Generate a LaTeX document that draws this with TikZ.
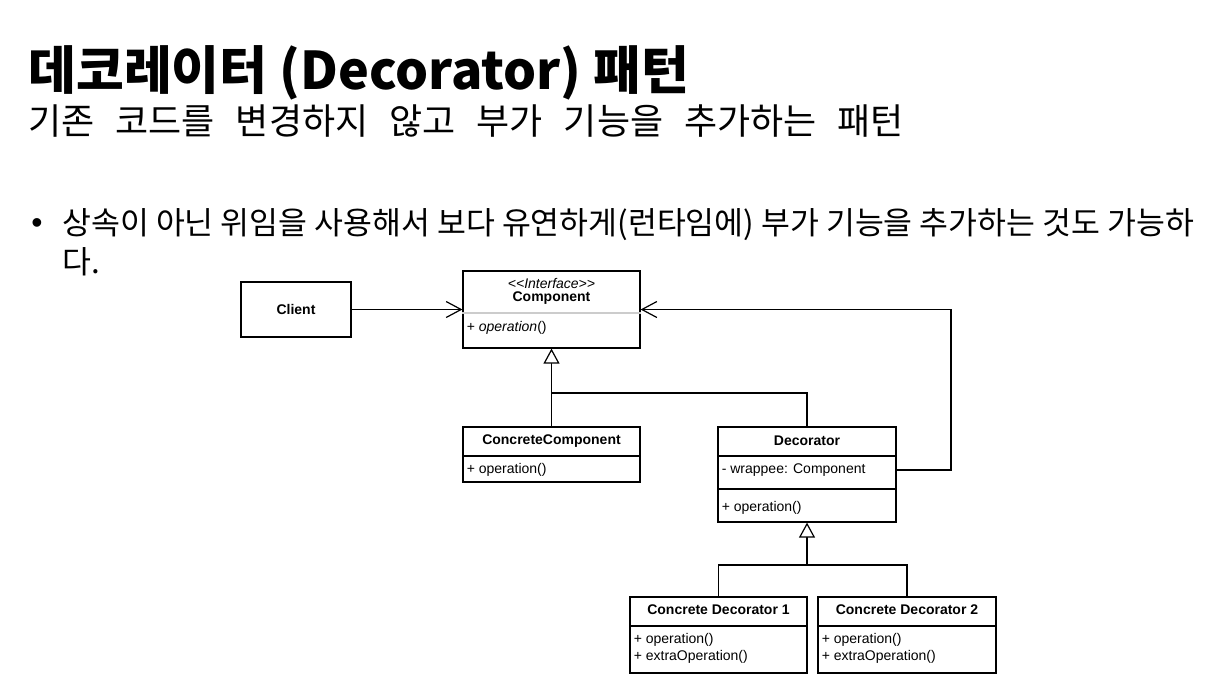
\documentclass[tikz,border=0pt]{standalone}
\usepackage{fontspec}
\setmainfont{Liberation Sans}
\newfontfamily\krfont{Noto Sans CJK KR}
\usetikzlibrary{arrows.meta,positioning,calc}

\tikzset{
  cls/.style={draw, line width=0.6pt, inner sep=0pt, fill=white},
  head/.style={inner sep=0pt, font=\fontsize{7}{8.4}\selectfont\bfseries},
  row/.style={anchor=west, inner sep=0pt, xshift=2pt},
  sep/.style={line width=0.6pt},
  assoc/.style={line width=0.6pt, -{Straight Barb[length=7.5pt,width=8pt,line width=0.6pt]}},
  inherit/.style={line width=0.6pt, -{Triangle[open,length=7.5pt,width=8pt,line width=0.6pt,fill=white]}},
  krtext/.style={anchor=base west, inner sep=0pt}
}

\begin{document}
\begin{tikzpicture}[x=0.5pt, y=-0.5pt, font=\fontsize{7}{8.4}\selectfont]
    \useasboundingbox[fill=white] (0,0) rectangle (1230,697);

    % title and text
    \node[krtext, font=\krfont\bfseries\fontsize{26}{31}\selectfont] (title) at (28,89) {데코레이터 (Decorator) 패턴};
    \node[krtext, font=\krfont\fontsize{18}{22}\selectfont] (subtitle) at (28,134)
        {기존\hspace{10.5pt}코드를\hspace{10.5pt}변경하지\hspace{10.5pt}않고\hspace{10.5pt}부가\hspace{10.5pt}기능을\hspace{10.5pt}추가하는\hspace{10.5pt}패턴};
    \node[krtext, font=\fontsize{16}{19}\selectfont] (bullet) at (31,233) {•};
    \node[krtext, font=\krfont\fontsize{15.7}{19}\selectfont] (line1) at (62,234)
        {상속이 아닌 위임을 사용해서 보다 유연하게(런타임에) 부가 기능을 추가하는 것도 가능하};
    \node[krtext, font=\krfont\fontsize{15.7}{19}\selectfont] (line2) at (62,273) {다.};

    % classes
    \node[cls, minimum width=55pt, minimum height=27.5pt, font=\fontsize{7}{8.4}\selectfont\bfseries] (client) at (296,309.5) {Client};

    \node[cls, minimum width=88.5pt, minimum height=38.5pt] (comp) at (551.5,309.5) {};
    \draw[sep, black!20] (comp.west |- 0,313) -- (comp.east |- 0,313);
    \node[inner sep=0pt] (compst) at (comp.north |- 0,283) {\itshape <\kern0pt<Interface>\kern0pt>};
    \node[head] (comph) at (comp.north |- 0,298) {Component};
    \node[row] (compop) at (comp.west |- 0,328) {+ \textit{operation}()};

    \node[cls, minimum width=88.5pt, minimum height=27.5pt] (cc) at (551.5,454.5) {};
    \draw[sep] (cc.west |- 0,456) -- (cc.east |- 0,456);
    \node[head] (cch) at (cc.north |- 0,441) {ConcreteComponent};
    \node[row] (ccop) at (cc.west |- 0,470) {+ operation()};

    \node[cls, minimum width=89pt, minimum height=47.5pt] (dec) at (807,474.5) {};
    \draw[sep] (dec.west |- 0,456) -- (dec.east |- 0,456);
    \draw[sep] (dec.west |- 0,489) -- (dec.east |- 0,489);
    \node[head] (dech) at (dec.north |- 0,441) {Decorator};
    \node[row] (wrap) at (dec.west |- 0,470) {- wrappee: Component};
    \node[row] (decop) at (dec.west |- 0,508) {+ operation()};

    \node[cls, minimum width=88.5pt, minimum height=38pt] (cda) at (718.5,635) {};
    \draw[sep] (cda.west |- 0,626) -- (cda.east |- 0,626);
    \node[head] (cdah) at (cda.north |- 0,610) {Concrete Decorator 1};
    \node[row, align=left] (cdaop) at (cda.west |- 0,648) {+ operation()\\+ extraOperation()};

    \node[cls, minimum width=89pt, minimum height=38pt] (cdb) at (907,635) {};
    \draw[sep] (cdb.west |- 0,626) -- (cdb.east |- 0,626);
    \node[head] (cdbh) at (cdb.north |- 0,610) {Concrete Decorator 2};
    \node[row, align=left] (cdbop) at (cdb.west |- 0,648) {+ operation()\\+ extraOperation()};

    % connectors
    \coordinate (ja) at (551.5,393);
    \coordinate (jb) at (807,565);
    \draw[assoc] (client) -- (comp);
    \draw[assoc] (dec.east |- wrap) -- (951,470) |- (comp.east);
    \draw[inherit] (cc.north) -- (ja) -- (comp.south);
    \draw[sep] (ja) -| (dec.north);
    \draw[inherit] (jb) -- (dec.south);
    \draw[sep] (cda.north) |- (jb) -| (cdb.north);
\end{tikzpicture}
\end{document}
